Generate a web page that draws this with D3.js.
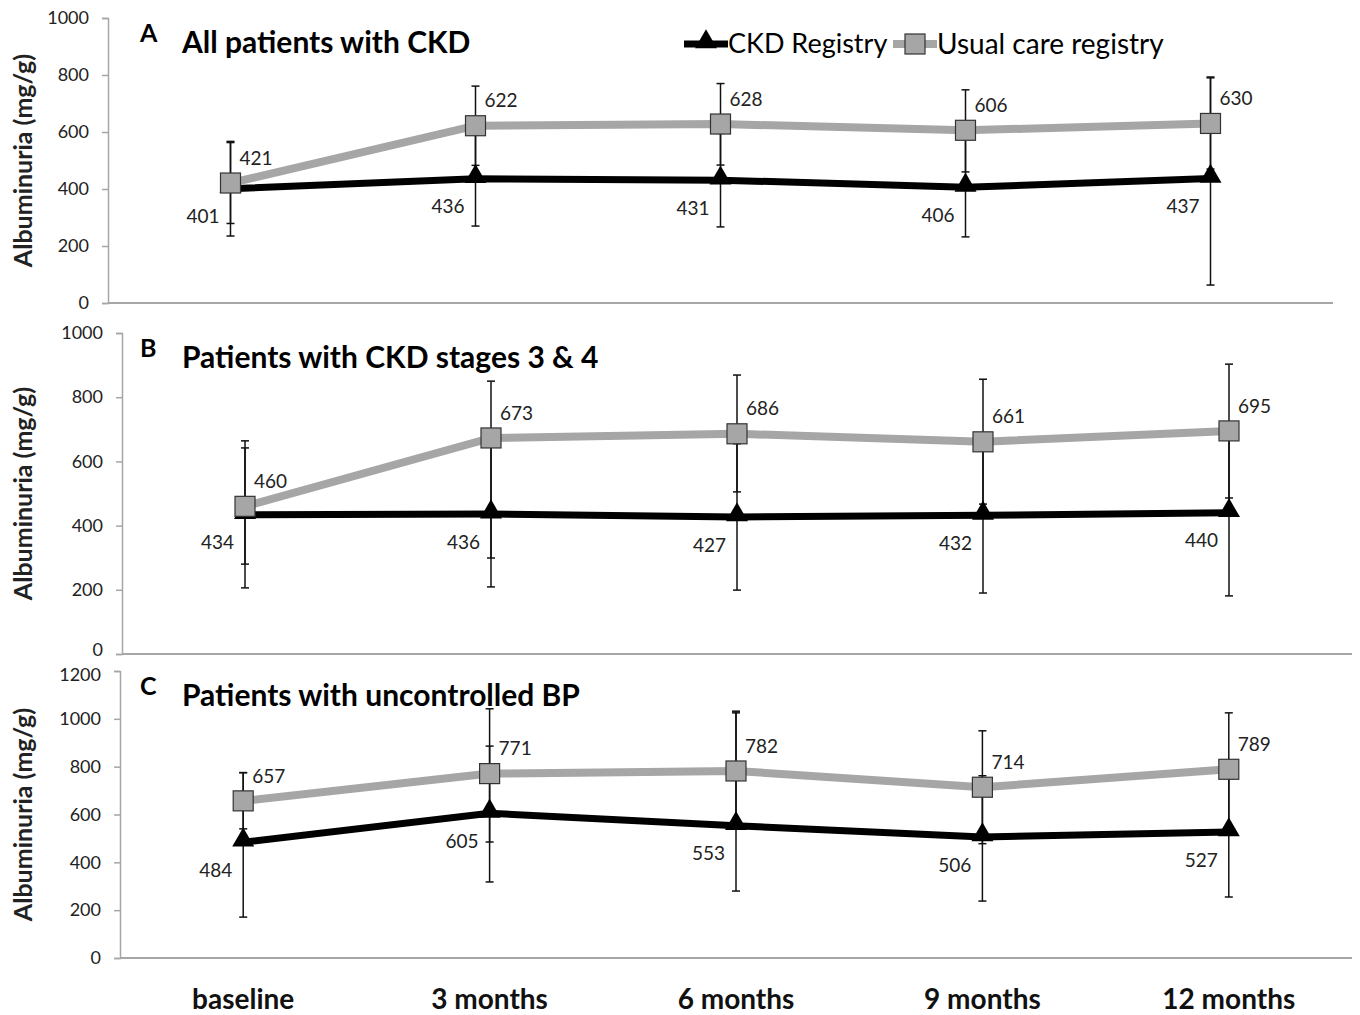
<!DOCTYPE html>
<html>
<head>
<meta charset="utf-8">
<script src="https://cdn.jsdelivr.net/npm/d3@7"></script>
<style>
	body { margin: 0; background: #fff; }
	svg { display: block; font-family: Lato, 'Open Sans', sans-serif; }
</style>
</head>
<body>
<div class="canvas"></div>
<script>
const months = ['baseline', '3 months', '6 months', '9 months', '12 months'];

// A: all patients with CKD
const ckdAll = [401, 436, 431, 406, 437];
const ckdAllLow = [235, 270, 267, 232, 63];
const ckdAllHigh = [567, 602, 595, 580, 790];
const usualAll = [421, 622, 628, 606, 630];
const usualAllLow = [279, 483, 484, 460, 470];
const usualAllHigh = [563, 761, 770, 748, 793];

// B: CKD stages 3 & 4
const ckdStage = [434, 436, 427, 432, 440];
const ckdStageLow = [206, 209, 199, 190, 181];
const ckdStageHigh = [664, 663, 655, 674, 699];
const usualStage = [460, 673, 686, 661, 695];
const usualStageLow = [280, 299, 505, 467, 486];
const usualStageHigh = [642, 850, 869, 856, 903];

// C: uncontrolled BP
const ckdBP = [484, 605, 553, 506, 527];
const ckdBPLow = [171, 318, 280, 238, 255];
const ckdBPHigh = [775, 886, 1032, 762, 799];
const usualBP = [657, 771, 782, 714, 789];
const usualBPLow = [540, 485, 540, 478, 553];
const usualBPHigh = [775, 1042, 1025, 950, 1025];

const yTicksAB = [0, 200, 400, 600, 800, 1000];
const yTicksC = [0, 200, 400, 600, 800, 1000, 1200];

const blackCol = '#000';
const greyCol = '#a6a6a6';
const axisCol = '#a6a6a6';

const svg = d3.select('.canvas')
	.append('svg')
	.attr('width', 1360)
	.attr('height', 1015);

const zip = (vals, lo, hi) => vals.map((v, i) => ({month: months[i], v, lo: lo[i], hi: hi[i]}));

const panels = [
	{letter: 'A', title: 'All patients with CKD', top: 18, bottom: 303, left: 108, right: 1333,
		max: 1000, ticks: yTicksAB,
		ckd: zip(ckdAll, ckdAllLow, ckdAllHigh), usual: zip(usualAll, usualAllLow, usualAllHigh)},
	{letter: 'B', title: 'Patients with CKD stages 3 & 4', top: 333, bottom: 654, left: 122, right: 1352,
		max: 1000, ticks: yTicksAB,
		ckd: zip(ckdStage, ckdStageLow, ckdStageHigh), usual: zip(usualStage, usualStageLow, usualStageHigh)},
	{letter: 'C', title: 'Patients with uncontrolled BP', top: 671, bottom: 958, left: 120, right: 1352,
		max: 1200, ticks: yTicksC,
		ckd: zip(ckdBP, ckdBPLow, ckdBPHigh), usual: zip(usualBP, usualBPLow, usualBPHigh)}
];

const triangle = d3.symbol().type(d3.symbolTriangle).size(210);

panels.forEach((p, pi) => {
	const x = d3.scalePoint().domain(months).range([p.left, p.right]).padding(0.5);
	const y = d3.scaleLinear().domain([0, p.max]).range([p.bottom, p.top]);
	const g = svg.append('g');

	// y axis
	const yAxis = g.append('g')
		.attr('transform', `translate(${p.left}, 0)`)
		.call(d3.axisLeft(y).tickValues(p.ticks).tickFormat(d3.format('d')).tickSize(6).tickPadding(13));
	yAxis.select('.domain').attr('stroke', axisCol).attr('stroke-width', 1.5);
	yAxis.selectAll('.tick line').attr('stroke', axisCol).attr('stroke-width', 1.5);
	yAxis.selectAll('.tick text')
		.attr('fill', '#222')
		.style('font-size', '18px')
		.style('font-family', 'Lato, sans-serif')
		// nudge the crowded 0 / top labels where panels meet
		.attr('dy', d => (d === 0 && pi === 1) ? '0.1em' : (d === p.max && pi === 2) ? '0.5em' : '0.32em');

	// x axis line
	g.append('line')
		.attr('x1', p.left).attr('x2', p.right)
		.attr('y1', p.bottom).attr('y2', p.bottom)
		.attr('stroke', axisCol).attr('stroke-width', 2);

	// axis title
	g.append('text')
		.attr('transform', `translate(32, ${(p.top + p.bottom) / 2}) rotate(-90)`)
		.attr('text-anchor', 'middle')
		.attr('font-weight', 'bold')
		.attr('font-size', 25)
		.attr('fill', '#222')
		.text('Albuminuria (mg/g)');

	// panel letter + title
	g.append('text')
		.attr('x', 140).attr('y', p.top + 24)
		.attr('font-weight', 'bold').attr('font-size', 25)
		.text(p.letter);
	g.append('text')
		.attr('x', 182).attr('y', p.top + 35)
		.attr('font-weight', 'bold').attr('font-size', 30)
		.text(p.title);

	// error bars
	const bars = [...p.usual, ...p.ckd];
	const eb = g.append('g').attr('stroke', '#111').attr('stroke-width', 1.5);
	bars.forEach(d => {
		const cx = x(d.month);
		eb.append('line').attr('x1', cx).attr('x2', cx).attr('y1', y(d.lo)).attr('y2', y(d.hi));
		eb.append('line').attr('x1', cx - 4).attr('x2', cx + 4).attr('y1', y(d.lo)).attr('y2', y(d.lo));
		eb.append('line').attr('x1', cx - 4).attr('x2', cx + 4).attr('y1', y(d.hi)).attr('y2', y(d.hi));
	});

	const line = d3.line().x(d => x(d.month)).y(d => y(d.v));

	// CKD registry line + triangles
	g.append('path')
		.datum(p.ckd)
		.attr('fill', 'none')
		.attr('stroke', blackCol)
		.attr('stroke-width', 7)
		.attr('d', line);
	g.selectAll('.tri')
		.data(p.ckd)
		.enter()
		.append('path')
			.attr('class', 'tri')
			.attr('fill', blackCol)
			.attr('transform', d => `translate(${x(d.month)}, ${y(d.v) - 2})`)
			.attr('d', triangle);

	// usual care line + squares
	g.append('path')
		.datum(p.usual)
		.attr('fill', 'none')
		.attr('stroke', greyCol)
		.attr('stroke-width', 8)
		.attr('d', line);
	g.selectAll('.sq')
		.data(p.usual)
		.enter()
		.append('rect')
			.attr('class', 'sq')
			.attr('x', d => x(d.month) - 10)
			.attr('y', d => y(d.v) - 10)
			.attr('width', 20)
			.attr('height', 20)
			.attr('fill', greyCol)
			.attr('stroke', '#333')
			.attr('stroke-width', 1.2);

	// data labels
	g.selectAll('.lblU')
		.data(p.usual)
		.enter()
		.append('text')
			.attr('x', d => x(d.month) + 9)
			.attr('y', d => y(d.v) - 25)
			.attr('dy', '0.35em')
			.attr('font-size', 19)
			.attr('fill', '#222')
			.text(d => d.v);
	g.selectAll('.lblC')
		.data(p.ckd)
		.enter()
		.append('text')
			.attr('x', d => x(d.month) - 11)
			.attr('y', d => y(d.v) + 28)
			.attr('dy', '0.35em')
			.attr('text-anchor', 'end')
			.attr('font-size', 19)
			.attr('fill', '#222')
			.text(d => d.v);

	// category labels under last panel
	if (pi === panels.length - 1) {
		g.selectAll('.cat')
			.data(months)
			.enter()
			.append('text')
				.attr('x', d => x(d))
				.attr('y', 1009)
				.attr('text-anchor', 'middle')
				.attr('font-weight', 'bold')
				.attr('font-size', 28)
				.attr('fill', '#111')
				.text(d => d);
	}
});

// legend
const legend = svg.append('g').attr('transform', 'translate(684, 44)');
legend.append('line').attr('x1', 0).attr('x2', 44).attr('stroke', blackCol).attr('stroke-width', 7);
legend.append('path').attr('transform', 'translate(22, -2)').attr('d', triangle).attr('fill', blackCol);
legend.append('text').attr('x', 44).attr('dy', '0.35em').attr('font-size', 27).text('CKD Registry');
legend.append('line').attr('x1', 209).attr('x2', 253).attr('stroke', greyCol).attr('stroke-width', 8);
legend.append('rect').attr('x', 221).attr('y', -10).attr('width', 20).attr('height', 20)
	.attr('fill', greyCol).attr('stroke', '#333').attr('stroke-width', 1.2);
legend.append('text').attr('x', 253).attr('dy', '0.35em').attr('font-size', 28).text('Usual care registry');
</script>
</body>
</html>
